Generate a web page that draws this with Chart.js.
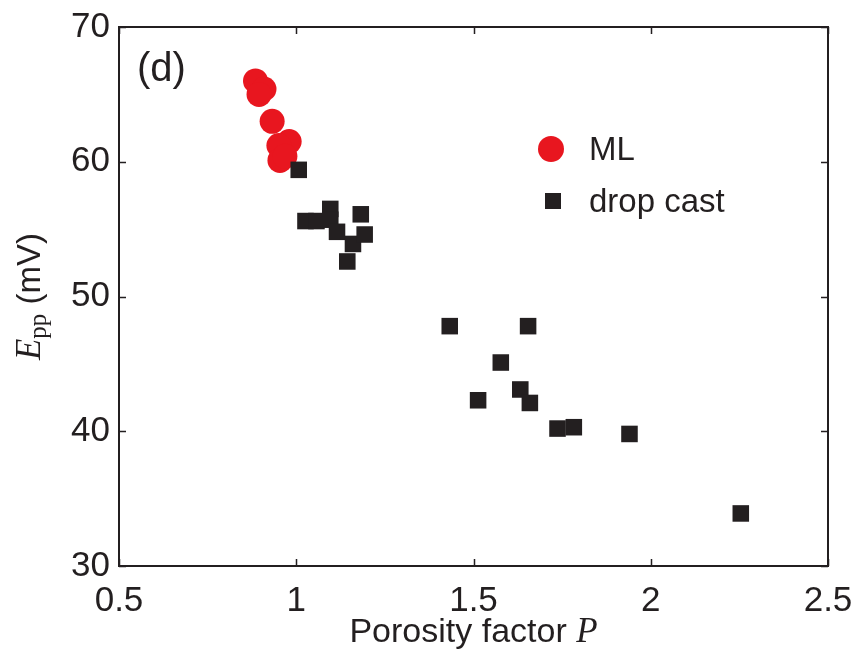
<!DOCTYPE html>
<html>
<head>
<meta charset="utf-8">
<script src="https://cdn.jsdelivr.net/npm/chart.js@4/dist/chart.umd.min.js"></script>
<style>
html,body{margin:0;padding:0;background:#fff;}
#wrap{width:854px;height:651px;}
</style>
</head>
<body>
<div id="wrap"><canvas id="c" width="854" height="651"></canvas></div>
<script>
// ---- data ----
const mlP = [0.885, 0.909, 0.895, 0.932, 0.980, 0.951, 0.954, 0.968];
const mlE = [66.0, 65.4, 65.0, 63.0, 61.5, 61.2, 60.1, 60.4];
const dcP = [1.007, 1.026, 1.057, 1.096, 1.096, 1.115, 1.144, 1.160, 1.182, 1.193,
             1.433, 1.654, 1.577, 1.513, 1.632, 1.659, 1.737, 1.783, 1.940, 2.254];
const dcE = [59.4, 55.6, 55.6, 56.5, 55.7, 54.8, 52.6, 53.9, 56.1, 54.6,
             47.8, 47.8, 45.1, 42.3, 43.1, 42.1, 40.2, 40.3, 39.8, 33.9];
const xTicks = [0.5, 1, 1.5, 2, 2.5];
const yTicks = [30, 40, 50, 60, 70];
const seriesNames = ['ML', 'drop cast'];
const panelLabel = '(d)';

const INK = '#231f20';
const RED = '#e8161f';

const pts = (xs, ys) => xs.map((x, i) => ({x, y: ys[i]}));

const decor = {
  id: 'decor',
  afterDraw(chart) {
    const {ctx, chartArea: a, scales: {x, y}} = chart;
    ctx.save();
    // frame
    ctx.strokeStyle = INK;
    ctx.lineWidth = 2;
    ctx.strokeRect(a.left, a.top, a.right - a.left, a.bottom - a.top);
    // inward ticks
    const tl = 7;
    ctx.lineWidth = 1.5;
    ctx.beginPath();
    xTicks.forEach(v => {
      const px = Math.round(x.getPixelForValue(v)) + 0.5;
      ctx.moveTo(px, a.bottom); ctx.lineTo(px, a.bottom - tl);
      ctx.moveTo(px, a.top); ctx.lineTo(px, a.top + tl);
    });
    yTicks.forEach(v => {
      const py = Math.round(y.getPixelForValue(v)) + 0.5;
      ctx.moveTo(a.left, py); ctx.lineTo(a.left + tl, py);
      ctx.moveTo(a.right, py); ctx.lineTo(a.right - tl, py);
    });
    ctx.stroke();

    ctx.fillStyle = INK;
    ctx.textBaseline = 'middle';
    // panel label
    ctx.font = '40px "Liberation Sans", Arial, sans-serif';
    ctx.textAlign = 'left';
    ctx.fillText(panelLabel, 137, 70);

    // legend
    ctx.fillStyle = RED;
    ctx.beginPath(); ctx.arc(551, 149, 13, 0, Math.PI * 2); ctx.fill();
    ctx.fillStyle = INK;
    ctx.fillRect(553 - 8, 201 - 8, 16, 16);
    ctx.font = '33px "Liberation Sans", Arial, sans-serif';
    ctx.fillText(seriesNames[0], 589, 151);
    ctx.fillText(seriesNames[1], 589, 203);

    // x title
    const xm = (a.left + a.right) / 2;
    const f1 = '34px "Liberation Sans", Arial, sans-serif';
    const f2 = 'italic 35px "Liberation Serif", "Times New Roman", serif';
    ctx.font = f1; const w1 = ctx.measureText('Porosity factor ').width;
    ctx.font = f2; const w2 = ctx.measureText('P').width;
    let sx = xm - (w1 + w2) / 2;
    const ty = 633;
    ctx.font = f1; ctx.fillText('Porosity factor ', sx, ty);
    ctx.font = f2; ctx.fillText('P', sx + w1, ty);

    // y title (rotated)
    const ym = (a.top + a.bottom) / 2;
    const fE = 'italic 35px "Liberation Serif", "Times New Roman", serif';
    const fS = '25px "Liberation Serif", "Times New Roman", serif';
    const fU = '33px "Liberation Sans", Arial, sans-serif';
    ctx.font = fE; const wE = ctx.measureText('E').width;
    ctx.font = fS; const wS = ctx.measureText('pp').width;
    ctx.font = fU; const wU = ctx.measureText(' (mV)').width;
    const tot = wE + wS + wU;
    ctx.translate(31, ym);
    ctx.rotate(-Math.PI / 2);
    let cx = -tot / 2;
    ctx.font = fE; ctx.fillText('E', cx, 0); cx += wE;
    ctx.font = fS; ctx.fillText('pp', cx, 8); cx += wS;
    ctx.font = fU; ctx.fillText(' (mV)', cx, 0);
    ctx.restore();
  }
};

new Chart(document.getElementById('c'), {
  type: 'scatter',
  data: {
    datasets: [
      {
        label: seriesNames[1],
        data: pts(dcP, dcE),
        pointStyle: 'rect',
        pointRadius: 11.7,
        pointHoverRadius: 11.7,
        backgroundColor: INK,
        borderColor: INK,
        borderWidth: 0
      },
      {
        label: seriesNames[0],
        data: pts(mlP, mlE),
        pointStyle: 'circle',
        pointRadius: 12.5,
        pointHoverRadius: 12.5,
        backgroundColor: RED,
        borderColor: RED,
        borderWidth: 0
      }
    ]
  },
  options: {
    responsive: false,
    animation: false,
    events: [],
    layout: {padding: {top: 27, right: 26, left: 0, bottom: 0}},
    plugins: {legend: {display: false}, tooltip: {enabled: false}},
    scales: {
      x: {
        type: 'linear', min: 0.5, max: 2.5,
        afterBuildTicks: s => { s.ticks = xTicks.map(v => ({value: v})); },
        afterFit: s => { s.height = 85; s.paddingLeft = 0; s.paddingRight = 0; },
        grid: {display: false, drawTicks: false},
        border: {display: false},
        ticks: {
          color: INK, padding: 14,
          font: {family: '"Liberation Sans", Arial, sans-serif', size: 35},
          callback: v => String(v)
        }
      },
      y: {
        type: 'linear', min: 30, max: 70,
        afterBuildTicks: s => { s.ticks = yTicks.map(v => ({value: v})); },
        afterFit: s => { s.width = 119; s.paddingTop = 0; s.paddingBottom = 0; },
        grid: {display: false, drawTicks: false},
        border: {display: false},
        ticks: {
          color: INK, padding: 9,
          font: {family: '"Liberation Sans", Arial, sans-serif', size: 35},
          callback: v => String(v)
        }
      }
    }
  },
  plugins: [decor]
});
</script>
</body>
</html>
